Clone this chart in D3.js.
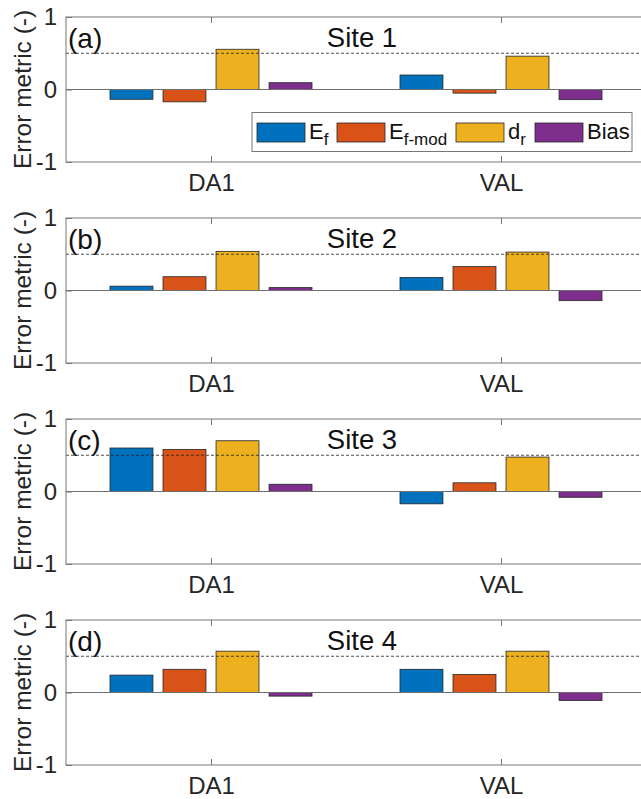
<!DOCTYPE html>
<html>
<head>
<meta charset="utf-8">
<script src="https://cdn.jsdelivr.net/npm/d3@7"></script>
<style>
  body { margin: 0; background: #fff; }
  svg { font-family: "Liberation Sans", Arial, sans-serif; }
</style>
</head>
<body>
<div id="chart"></div>
<script>
// data
const categories = ["DA1", "VAL"];
const sites = ["Site 1", "Site 2", "Site 3", "Site 4"];
const tags = ["(a)", "(b)", "(c)", "(d)"];
const seriesKeys = ["Ef", "Efmod", "dr", "Bias"];
const colors = ["#0072BD", "#D95319", "#EDB120", "#7E2F8E"];
// one row per site: [DA1, VAL]
const Ef    = [[-0.135, 0.20], [0.06, 0.18], [0.60, -0.17], [0.24, 0.32]];
const Efmod = [[-0.17, -0.05], [0.19, 0.33], [0.58, 0.12], [0.32, 0.25]];
const dr    = [[0.555, 0.46], [0.54, 0.53], [0.70, 0.475], [0.57, 0.57]];
const Bias  = [[0.094, -0.14], [0.04, -0.14], [0.10, -0.08], [-0.05, -0.11]];
const yTicks = [-1, 0, 1];
const refLine = 0.5;

const W = 641, H = 799;
const panelTop = 17, panelH = 145, panelStep = 201;
const left = 66, right = 646;

const svg = d3.select("#chart").append("svg")
  .attr("width", W).attr("height", H)
  .attr("viewBox", `0 0 ${W} ${H}`);

const x = d3.scaleLinear().domain([0.5, 2.5]).range([left, right]);
const xInner = d3.scaleBand().domain(seriesKeys).range([-101, 101]).paddingInner(0.19);
const allSeries = { Ef, Efmod, dr, Bias };

sites.forEach((site, i) => {
  const top = panelTop + i * panelStep;
  const y = d3.scaleLinear().domain([-1, 1]).range([top + panelH, top]);
  const g = svg.append("g");

  // bars
  const rows = [];
  categories.forEach((c, ci) => {
    seriesKeys.forEach((k, si) => {
      rows.push({ cat: ci + 1, key: k, color: colors[si], v: allSeries[k][i][ci] });
    });
  });
  g.selectAll("rect.bar")
    .data(rows)
    .join("rect")
    .attr("class", "bar")
    .attr("x", d => x(d.cat) + xInner(d.key))
    .attr("width", xInner.bandwidth())
    .attr("y", d => y(Math.max(0, d.v)))
    .attr("height", d => Math.abs(y(d.v) - y(0)))
    .attr("fill", d => d.color)
    .attr("stroke", "#262626")
    .attr("stroke-width", 0.8);

  // zero line and 0.5 reference
  g.append("line")
    .attr("x1", left).attr("x2", right)
    .attr("y1", y(0)).attr("y2", y(0))
    .attr("stroke", "#6e6e6e").attr("stroke-width", 1);
  g.append("line")
    .attr("x1", left).attr("x2", right)
    .attr("y1", y(refLine)).attr("y2", y(refLine))
    .attr("stroke", "#222").attr("stroke-width", 0.8)
    .attr("stroke-dasharray", "3,2");

  // box
  g.append("rect")
    .attr("x", left).attr("y", top)
    .attr("width", right - left).attr("height", panelH)
    .attr("fill", "none").attr("stroke", "#777").attr("stroke-width", 1);

  // y axis (ticks inward)
  const ya = g.append("g")
    .attr("transform", `translate(${left},0)`)
    .call(d3.axisLeft(y).tickValues(yTicks).tickSize(-6).tickPadding(9).tickFormat(d => String(d)));
  ya.select(".domain").remove();
  ya.selectAll("line").attr("stroke", "#777");
  ya.selectAll("text").style("font-size", "24px").attr("fill", "#262626");

  // x axis bottom + top ticks
  const xa = g.append("g")
    .attr("transform", `translate(0,${top + panelH})`)
    .call(d3.axisBottom(x).tickValues([1, 2]).tickSize(-6).tickPadding(12)
      .tickFormat(d => categories[d - 1]));
  xa.select(".domain").remove();
  xa.selectAll("line").attr("stroke", "#777");
  xa.selectAll("text").style("font-size", "24px").attr("fill", "#262626");
  const xt = g.append("g")
    .attr("transform", `translate(0,${top})`)
    .call(d3.axisTop(x).tickValues([1, 2]).tickSize(-6).tickFormat(""));
  xt.select(".domain").remove();
  xt.selectAll("line").attr("stroke", "#777");

  // y label
  g.append("text")
    .attr("transform", `translate(31,${top + panelH / 2}) rotate(-90)`)
    .attr("text-anchor", "middle")
    .style("font-size", "24.5px")
    .attr("fill", "#262626")
    .text("Error metric (-)");

  // panel tag and title
  g.append("text")
    .attr("x", left + 2).attr("y", top + 31)
    .style("font-size", "28px").attr("fill", "#111")
    .text(tags[i]);
  g.append("text")
    .attr("x", 362).attr("y", top + 30)
    .attr("text-anchor", "middle")
    .style("font-size", "27.5px").attr("fill", "#111")
    .text(site);
});

// legend in panel (a)
const leg = svg.append("g");
leg.append("rect")
  .attr("x", 252).attr("y", 112.5).attr("width", 380).attr("height", 39)
  .attr("fill", "#fff").attr("stroke", "#777").attr("stroke-width", 1);
const legItems = [
  { sx: 257, main: "E", sub: "f" },
  { sx: 337, main: "E", sub: "f-mod" },
  { sx: 456, main: "d", sub: "r" },
  { sx: 535, main: "Bias", sub: "" }
];
legItems.forEach((it, j) => {
  leg.append("rect")
    .attr("x", it.sx).attr("y", 123).attr("width", 48).attr("height", 19)
    .attr("fill", colors[j]).attr("stroke", "#262626").attr("stroke-width", 0.8);
  const t = leg.append("text")
    .attr("x", it.sx + 52).attr("y", 139)
    .style("font-size", "22px").attr("fill", "#111");
  t.append("tspan").text(it.main);
  if (it.sub) {
    t.append("tspan").attr("dy", 6).style("font-size", "17px").text(it.sub);
  }
});
</script>
</body>
</html>
